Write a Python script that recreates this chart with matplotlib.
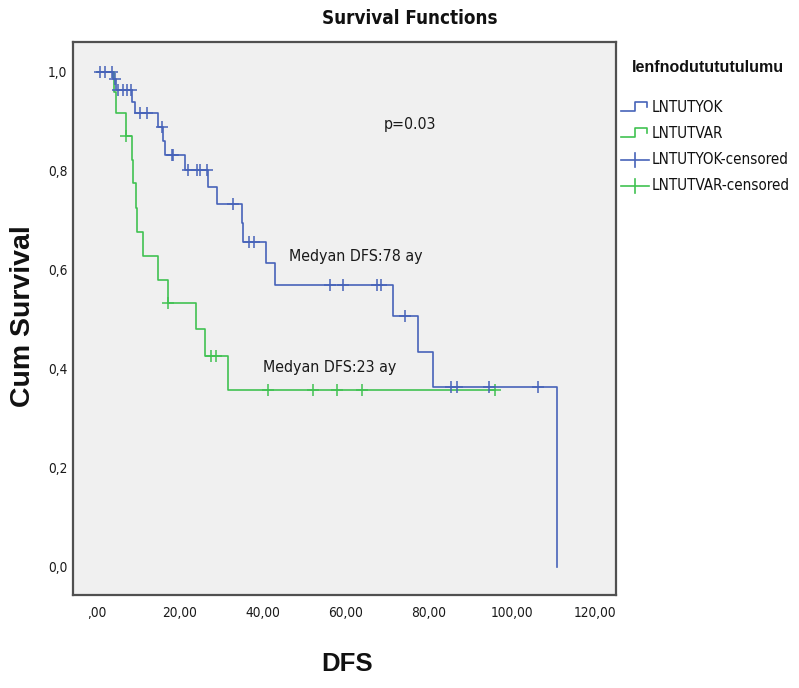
import os
import numpy as np
import matplotlib
matplotlib.use("Agg")
import matplotlib.pyplot as plt
import matplotlib.font_manager as fm
from matplotlib.lines import Line2D

# ---- data ----
blue_event_times = [3.9, 4.7, 8.4, 9.2, 14.7, 15.8, 16.4, 21.2, 26.7, 29.0, 34.9, 35.3,
                    40.7, 42.9, 71.4, 77.4, 81.0, 110.8]
blue_surv = [0.985, 0.964, 0.940, 0.917, 0.888, 0.860, 0.832, 0.803, 0.767, 0.733, 0.695,
             0.657, 0.615, 0.570, 0.507, 0.435, 0.363, 0.0]
blue_censor = [0.7, 1.9, 3.5, 4.3, 5.1, 6.3, 7.3, 8.1, 10.4, 12.0, 15.6, 18.0, 18.4, 21.9,
               24.2, 24.8, 26.4, 32.8, 36.6, 37.8, 56.1, 59.3, 67.4, 68.4, 74.1, 85.2,
               86.7, 94.5, 106.3]

green_event_times = [4.1, 4.6, 6.9, 8.4, 8.7, 9.4, 9.6, 11.2, 14.6, 17.0, 23.9, 26.0, 31.6]
green_surv = [0.960, 0.917, 0.871, 0.822, 0.776, 0.725, 0.677, 0.628, 0.580, 0.533, 0.481,
              0.426, 0.358]
green_censor = [7.1, 17.2, 27.5, 28.6, 41.2, 52.0, 57.8, 63.9, 95.8]

group_names = ["LNTUTYOK", "LNTUTVAR"]
x_ticks = [0, 20, 40, 60, 80, 100, 120]
x_tick_labels = [",00", "20,00", "40,00", "60,00", "80,00", "100,00", "120,00"]
y_ticks = [0.0, 0.2, 0.4, 0.6, 0.8, 1.0]
y_tick_labels = ["0,0", "0,2", "0,4", "0,6", "0,8", "1,0"]

BLUE = "#4763b9"
GREEN = "#41c252"
TXT = "#1a1a1a"

# ---- find a condensed font (Arial Narrow look-alike) ----
def find_narrow(bold):
    best = None
    for f in fm.fontManager.ttflist:
        base = os.path.basename(f.fname).lower()
        is_narrow = ("narrow" in f.name.lower() or "narrow" in base or
                     "condensed" in f.name.lower() or "condensed" in base or
                     f.stretch in ("condensed", "semi-condensed"))
        if not is_narrow:
            continue
        w = f.weight if isinstance(f.weight, int) else (700 if "bold" in str(f.weight) else 400)
        if bold != (w >= 600):
            continue
        if f.style != "normal" or "italic" in base or "oblique" in base:
            continue
        if "liberation" in base:
            score = 3
        elif "dejavu" in base:
            score = 2
        else:
            score = 1
        if best is None or score > best[0]:
            best = (score, f.fname, "liberation" in base)
    return best


nr = find_narrow(False)
nb = find_narrow(True)


def make_props(found, bold):
    if found:
        # DejaVu Sans Condensed is wider than Arial Narrow -> shrink a bit
        return fm.FontProperties(fname=found[1]), (1.0 if found[2] else 0.82)
    p = fm.FontProperties(family=["Liberation Sans", "DejaVu Sans"],
                          weight="bold" if bold else "normal")
    return p, 0.68


NARROW, SCALE = make_props(nr, False)
NARROW_B, SCALE_B = make_props(nb, True)


def np_(size, bold=False):
    p = (NARROW_B if bold else NARROW).copy()
    p.set_size(size * (SCALE_B if bold else SCALE))
    return p


ARIAL = ["Liberation Sans", "DejaVu Sans"]

W, H = 799, 688
fig = plt.figure(figsize=(W / 100, H / 100), dpi=100)
fig.patch.set_facecolor("white")


def fx(px):
    return px / W


def fy(py):
    return 1 - py / H


ax = fig.add_axes([fx(73), fy(595), (616 - 73) / W, (595 - 42) / H])
ax.set_facecolor("#f0f0f0")
for s in ax.spines.values():
    s.set_color("#505050")
    s.set_linewidth(1.6)


def km_path(times, surv, end):
    x = [0.0] + list(times)
    y = [1.0] + list(surv)
    if end > x[-1]:
        x.append(end)
        y.append(y[-1])
    return x, y


def censor_y(times, surv, ct):
    levels = np.array([1.0] + list(surv))
    idx = np.searchsorted(np.array(times), np.array(ct), side="right")
    return levels[idx]


gx, gy = km_path(green_event_times, green_surv, max(green_censor))
bx, by = km_path(blue_event_times, blue_surv, max(blue_censor))

ax.step(gx, gy, where="post", color=GREEN, lw=1.2, zorder=3)
ax.plot(green_censor, censor_y(green_event_times, green_surv, green_censor),
        ls="none", marker="+", ms=9, mew=1.1, color=GREEN, zorder=4)
ax.step(bx, by, where="post", color=BLUE, lw=1.2, zorder=5)
ax.plot(blue_censor, censor_y(blue_event_times, blue_surv, blue_censor),
        ls="none", marker="+", ms=9, mew=1.1, color=BLUE, zorder=6)

ax.set_xlim(-5.78, 125.06)
ax.set_ylim(-0.0566, 1.0606)
ax.set_xticks(x_ticks)
ax.set_xticklabels(x_tick_labels, fontproperties=np_(12), color=TXT)
ax.set_yticks(y_ticks)
ax.set_yticklabels(y_tick_labels, fontproperties=np_(12), color=TXT)
ax.tick_params(axis="x", length=0, pad=8)
ax.tick_params(axis="y", length=0, pad=4)

fig.text(fx(410), fy(125), "p=0.03", ha="center", va="center",
         fontproperties=np_(14), color=TXT)
fig.text(fx(356), fy(257), "Medyan DFS:78 ay", ha="center", va="center",
         fontproperties=np_(14), color=TXT)
fig.text(fx(330), fy(368), "Medyan DFS:23 ay", ha="center", va="center",
         fontproperties=np_(14), color=TXT)

fig.text(fx(410), fy(18), "Survival Functions", ha="center", va="center",
         fontproperties=np_(16.5, bold=True), color="#111111")
fig.text(fx(23), fy(316), "Cum Survival", ha="center", va="center", rotation=90,
         family=ARIAL, fontsize=20.5, fontweight="bold", color="#111111")
fig.text(fx(347), fy(664), "DFS", ha="center", va="center",
         family=ARIAL, fontsize=18.5, fontweight="bold", color="#111111")

# ---- legend ----
fig.text(fx(632), fy(67), "lenfnodutututulumu", ha="left", va="center",
         family=ARIAL, fontsize=11.5, fontweight="bold", color="#111111")
entries = [group_names[0], group_names[1],
           group_names[0] + "-censored", group_names[1] + "-censored"]
colors = [BLUE, GREEN, BLUE, GREEN]
ys = [107, 133, 160, 186]
for i, (lab, c, yy) in enumerate(zip(entries, colors, ys)):
    if i < 2:
        hx = [621, 635, 635, 647, 647]
        hy = [yy + 4, yy + 4, yy - 5, yy - 5, yy]
        fig.add_artist(Line2D([fx(v) for v in hx], [fy(v) for v in hy],
                              color=c, lw=1.2, transform=fig.transFigure))
    else:
        fig.add_artist(Line2D([fx(621), fx(649)], [fy(yy), fy(yy)],
                              color=c, lw=1.2, transform=fig.transFigure))
        fig.add_artist(Line2D([fx(635), fx(635)], [fy(yy - 7), fy(yy + 7)],
                              color=c, lw=1.2, transform=fig.transFigure))
    fig.text(fx(652), fy(yy), lab, ha="left", va="center",
             fontproperties=np_(13.3), color="#111111")

fig.savefig("out.png", dpi=100, facecolor="white")
